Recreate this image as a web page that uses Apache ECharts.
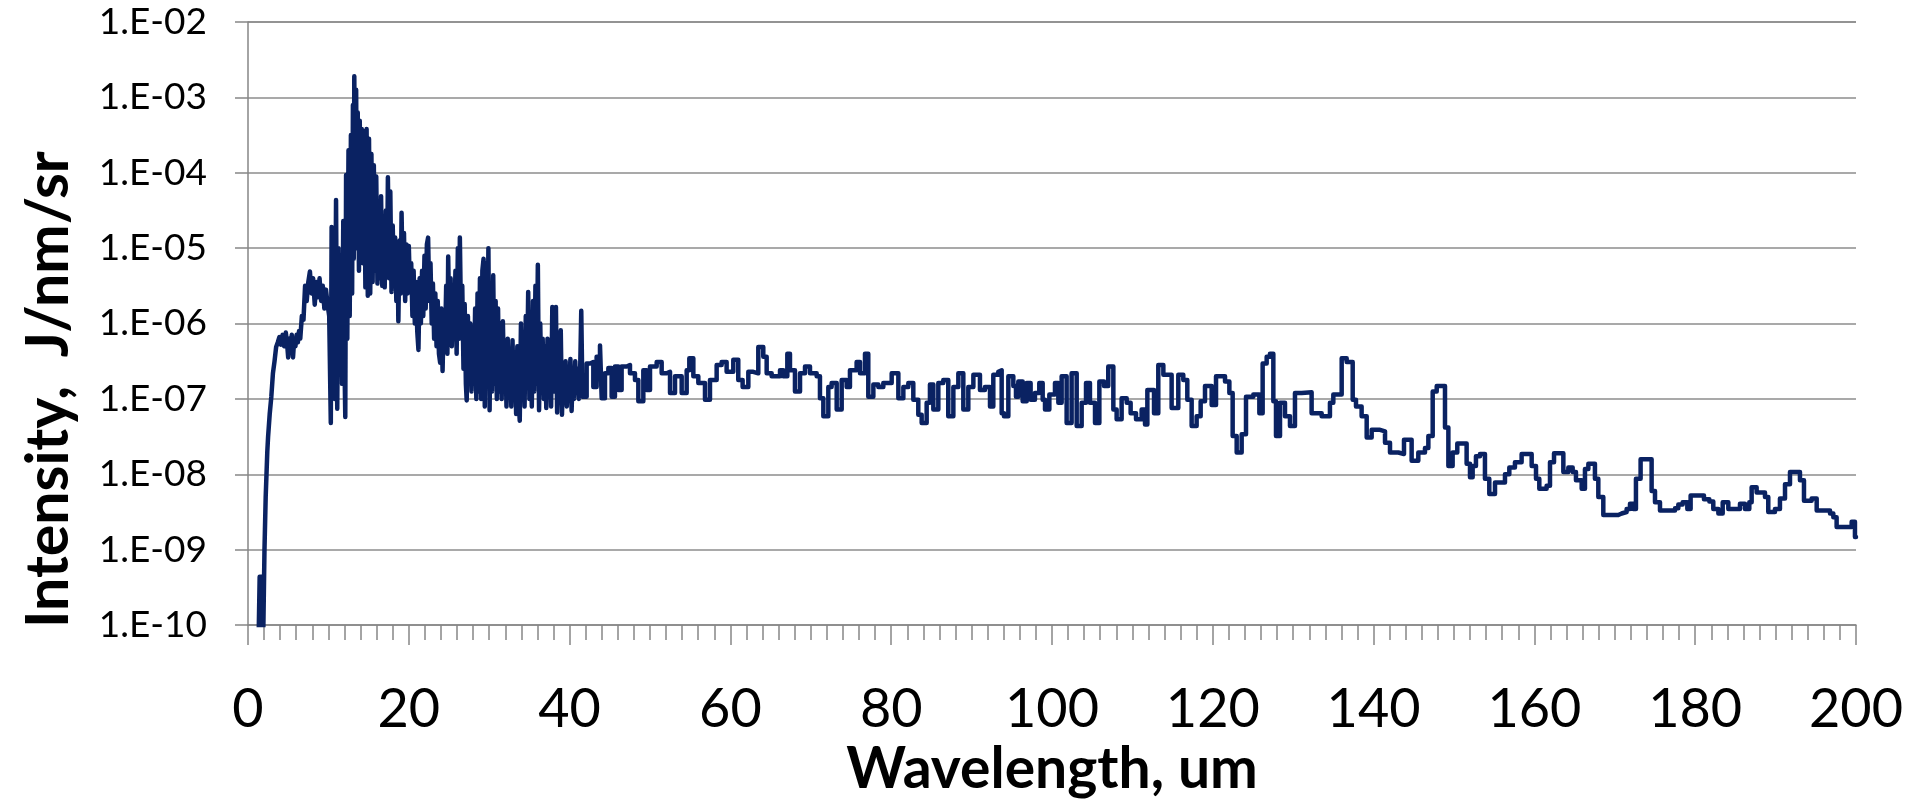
<!DOCTYPE html>
<html>
<head>
<meta charset="utf-8">
<script src="https://cdn.jsdelivr.net/npm/echarts@6/dist/echarts.min.js"></script>
<style>
html,body{margin:0;padding:0;background:#fff;}
#chart{width:1909px;height:803px;}
</style>
</head>
<body>
<div id="chart"></div>
<script>
// x tick labels (um) and y tick labels (decades)
const xTickLabels = ['0','20','40','60','80','100','120','140','160','180','200'];
const yTickLabels = ['1.E-10','1.E-09','1.E-08','1.E-07','1.E-06','1.E-05','1.E-04','1.E-03','1.E-02'];

// Spectrum: [wavelength (um), log10 of intensity (J/nm/sr)]
const riseEdge = [
[1.30,-10.3],[1.45,-9.36],[1.70,-10.3],[1.90,-10.1],[2.05,-9.0],[2.20,-8.3],[2.30,-8.0],[2.40,-7.7],[2.50,-7.5],[2.70,-7.2],[2.90,-6.97],[3.10,-6.66],[3.30,-6.5],
[3.5,-6.31],[3.7,-6.25],[3.9,-6.18],[4.1,-6.28],[4.3,-6.15],[4.5,-6.3],[4.7,-6.12],[4.85,-6.25],[5.0,-6.45],[5.15,-6.2],[5.3,-6.28],[5.45,-6.15],[5.6,-6.45],[5.75,-6.2],[5.9,-6.3],[6.05,-6.15],[6.2,-6.25],[6.35,-6.1],[6.5,-6.2],[6.7,-5.9],[6.9,-5.95],[7.1,-5.5],[7.3,-5.7],[7.5,-5.45],[7.7,-5.31],[7.9,-5.6],[8.1,-5.4],[8.3,-5.75],[8.5,-5.45],[8.7,-5.65],[8.9,-5.4],[9.1,-5.7],[9.3,-5.5],[9.5,-5.8],[9.7,-5.55],[9.9,-5.75],[10.1,-5.9]
];
const denseBand = [
[10.30,-7.32],[10.40,-4.72],[10.55,-6.9],[10.65,-5.4],[10.80,-7.0],[10.95,-4.36],[11.10,-7.13],[11.25,-5.0],[11.40,-6.6],[11.55,-5.1],[11.70,-6.8],[11.85,-4.64],[12.00,-6.5],[12.10,-7.24],[12.20,-4.03],[12.35,-6.2],[12.50,-3.7],[12.65,-5.9],[12.80,-3.5],[12.95,-5.6],[13.05,-3.1],[13.15,-5.14],[13.22,-2.72],[13.35,-4.9],[13.45,-2.9],[13.55,-5.0],[13.65,-3.2],[13.80,-5.3],[13.90,-3.31],[14.05,-5.02],[14.15,-3.42],[14.30,-5.2],[14.45,-3.45],[14.60,-5.52],[14.75,-3.42],[14.90,-5.63],[15.05,-3.55],[15.20,-5.6],[15.35,-3.75],[15.50,-5.45],[15.65,-3.9],[15.80,-5.30],[15.95,-4.05],[16.10,-5.47],[16.25,-4.4],[16.40,-5.4],[16.55,-4.31],[16.70,-5.5],[16.85,-4.6],[17.00,-5.52],[17.15,-4.5],[17.30,-5.3],[17.40,-4.06],[17.55,-5.4],[17.70,-4.25],[17.85,-5.58],[18.00,-4.7],[18.15,-5.5],[18.30,-4.86],[18.45,-5.7],[18.60,-5.0],[18.70,-5.97],[18.85,-4.9],[19.00,-5.6],[19.10,-4.53],[19.25,-5.5],[19.40,-4.8],[19.55,-5.7],[19.70,-4.95],[19.85,-5.6],[20.00,-4.97],[20.15,-5.58],[20.30,-5.2],[20.45,-5.9],[20.60,-5.3],[20.75,-6.0],[20.90,-5.45],[21.05,-6.1],[21.20,-6.35],[21.35,-5.4],[21.50,-6.0],[21.65,-5.3],[21.80,-5.9],[21.95,-5.1],[22.10,-5.8],[22.25,-4.95],[22.40,-4.86],[22.55,-5.7],[22.70,-5.2],[22.85,-6.0],[23.00,-5.47],[23.15,-6.2],[23.30,-5.6],[23.45,-6.3],[23.60,-5.7],[23.75,-6.4],[23.90,-6.52],[24.05,-5.8],[24.20,-6.63],[24.35,-5.9],[24.50,-6.3],[24.65,-5.5],[24.80,-6.4],[24.90,-5.11],[25.05,-6.1],[25.20,-5.4],[25.35,-6.3],[25.50,-5.58],[25.65,-6.2],[25.80,-5.3],[25.95,-6.4],[26.10,-5.0],[26.25,-6.2],[26.35,-4.86],[26.50,-6.0],[26.65,-5.5],[26.80,-6.6],[26.95,-5.74],[27.10,-6.8],[27.20,-7.02],[27.35,-5.9],[27.50,-6.7],[27.65,-6.0],[27.80,-6.9],[27.95,-6.07],[28.10,-6.8],[28.25,-5.8],[28.40,-7.0],[28.55,-5.6],[28.70,-6.9],[28.85,-5.4],[29.00,-7.0],[29.15,-5.3],[29.30,-5.14],[29.45,-7.1],[29.60,-5.2],[29.75,-6.8],[29.90,-5.0],[30.05,-7.15],[30.20,-5.5],[30.35,-6.9],[30.50,-5.36],[30.65,-6.8],[30.80,-5.7],[30.95,-7.0],[31.10,-5.8],[31.25,-6.9],[31.40,-6.0],[31.55,-7.0],[31.70,-5.97],[31.85,-6.8],[32.00,-6.3],[32.15,-7.1],[32.30,-6.2],[32.45,-6.9],[32.60,-6.52],[32.75,-7.1],[32.90,-6.22],[33.05,-7.0],[33.20,-6.4],[33.35,-7.2],[33.50,-6.3],[33.65,-7.0],[33.80,-7.29],[33.95,-6.0],[34.10,-6.9],[34.25,-6.2],[34.40,-7.1],[34.55,-5.9],[34.70,-6.8],[34.85,-5.58],[35.00,-7.0],[35.15,-6.1],[35.30,-7.1],[35.45,-5.7],[35.60,-6.9],[35.75,-5.5],[35.90,-6.8],[36.05,-5.22],[36.20,-7.15],[36.35,-6.0],[36.50,-6.9],[36.65,-6.2],[36.80,-7.0],[36.95,-6.3],[37.10,-7.12],[37.25,-6.2],[37.40,-6.9],[37.55,-6.4],[37.70,-7.1],[37.85,-5.78],[38.00,-6.9],[38.15,-6.3],[38.30,-5.78],[38.45,-7.18],[38.60,-6.4],[38.75,-7.0],[38.90,-6.09],[39.05,-7.21],[39.20,-6.6],[39.35,-7.0],[39.50,-6.5],[39.65,-7.1],[39.80,-6.6],[39.95,-6.9],[40.10,-6.47],[40.25,-7.16],[40.40,-6.6],[40.55,-7.0],[40.70,-6.5],[40.85,-6.9],[41.00,-6.6],[41.15,-7.0],[41.30,-6.7],[41.45,-5.83],[41.60,-6.97]
];
const plateau = [
[42.12,-6.53],[42.54,-6.51],[42.95,-6.84],[43.36,-6.44],[43.78,-6.29],[43.99,-6.99],[44.40,-6.66],[44.82,-6.59],[45.23,-6.97],[45.64,-6.57],[46.06,-6.88],[46.47,-6.57],[47.10,-6.55],[47.51,-6.66],[48.13,-6.75],[48.55,-7.03],[49.17,-6.62],[49.58,-6.88],[50.00,-6.57],[50.83,-6.51],[51.45,-6.66],[52.07,-6.64],[52.49,-6.92],[53.11,-6.70],[53.94,-6.92],[54.56,-6.62],[54.89,-6.46],[55.39,-6.70],[56.01,-6.79],[56.84,-7.01],[57.46,-6.75],[58.29,-6.55],[58.91,-6.51],[59.53,-6.64],[60.36,-6.48],[60.98,-6.75],[61.52,-6.84],[62.23,-6.64],[62.85,-6.66],[63.47,-6.31],[64.09,-6.44],[64.51,-6.66],[65.13,-6.70],[66.17,-6.62],[66.58,-6.70],[67.08,-6.40],[67.41,-6.62],[68.03,-6.90],[68.66,-6.66],[69.28,-6.57],[69.90,-6.66],[70.73,-6.70],[71.14,-6.99],[71.56,-7.23],[72.18,-6.84],[72.59,-6.79],[73.22,-7.14],[73.84,-6.75],[74.46,-6.84],[74.87,-6.62],[75.70,-6.51],[76.12,-6.66],[76.74,-6.40],[77.15,-6.97],[77.78,-6.81],[78.40,-6.84],[79.02,-6.79],[80.06,-6.66],[80.89,-6.99],[81.51,-6.84],[82.13,-6.79],[82.75,-7.01],[83.37,-7.21],[83.79,-7.32],[84.41,-7.05],[84.82,-6.81],[85.24,-7.14],[85.86,-6.79],[86.48,-6.75],[87.10,-7.23],[87.73,-6.84],[88.35,-6.66],[88.97,-7.14],[89.59,-6.84],[90.22,-6.68],[91.04,-6.88],[91.66,-6.84],[92.29,-7.10],[92.70,-6.68],[93.32,-6.64]
];
const coarseMid = [
[93.53,-6.62],[93.74,-7.19],[94.03,-7.23],[94.57,-6.70],[95.19,-6.83],[95.52,-6.97],[95.81,-6.77],[96.35,-7.03],[96.85,-6.79],[97.34,-7.01],[97.88,-6.92],[98.42,-6.79],[98.84,-7.01],[99.13,-7.14],[99.67,-6.94],[100.37,-6.79],[100.79,-7.05],[101.20,-6.70],[101.82,-7.32],[102.44,-6.66],[103.07,-7.36],[103.69,-7.05],[104.23,-6.79],[104.72,-7.05],[105.35,-7.32],[105.89,-6.77],[106.47,-6.83],[107.00,-6.57],[107.63,-7.14],[108.04,-7.27],[108.66,-6.99],[109.29,-7.05],[109.78,-7.19],[110.45,-7.27],[111.15,-7.14],[111.57,-7.34],[111.86,-6.88],[112.69,-7.19],[113.22,-6.55],[113.85,-6.68],[114.88,-7.12],[115.71,-6.68],[116.33,-6.75],[116.83,-7.01],[117.37,-7.36],[117.99,-7.23],[118.49,-7.03],[119.03,-6.83],[119.86,-7.08],[120.40,-6.70],[121.52,-6.77],[122.06,-6.92],[122.47,-7.49],[122.97,-7.71],[123.59,-7.47],[124.13,-6.97],[125.04,-6.94],[125.79,-7.19],[126.20,-6.53],[126.70,-6.44],[127.11,-6.40],[127.53,-7.03],[127.86,-7.49],[128.36,-7.05],[128.98,-7.23],[129.60,-7.36],[130.22,-6.92],[131.05,-6.91],[132.29,-7.19],[133.54,-7.23],[134.57,-7.05],[134.99,-6.94],[136.03,-6.46],[136.65,-6.51],[137.40,-7.01],[137.81,-7.10],[138.51,-7.23],[139.14,-7.51],[139.76,-7.41],[140.80,-7.43],[141.42,-7.58],[142.04,-7.71],[143.08,-7.73],[143.78,-7.54],[144.73,-7.82],[145.56,-7.71],[146.39,-7.65],[146.81,-7.49],[147.35,-6.90],[147.85,-6.83],[148.88,-7.38],[149.30,-7.89]
];
const coarseTail = [
[149.83,-7.71],[150.41,-7.59],[151.57,-7.86],[151.99,-8.04],[152.32,-7.89],[152.73,-7.76],[153.23,-7.73],[153.85,-8.06],[154.39,-8.26],[155.10,-8.11],[156.34,-8.00],[156.88,-7.91],[157.58,-7.84],[158.41,-7.73],[159.66,-7.89],[160.20,-8.06],[160.61,-8.19],[161.52,-8.15],[161.94,-7.84],[162.44,-7.72],[163.60,-7.97],[164.22,-7.91],[164.76,-7.97],[165.17,-8.08],[165.88,-8.19],[166.29,-7.93],[166.71,-7.86],[167.53,-8.06],[167.95,-8.30],[168.57,-8.54],[170.44,-8.52],[170.85,-8.50],[171.47,-8.46],[171.89,-8.39],[172.30,-8.46],[172.63,-8.06],[173.21,-7.80],[174.58,-8.22],[175.00,-8.37],[175.62,-8.48],[177.49,-8.45],[177.90,-8.40],[178.44,-8.37],[179.02,-8.46],[179.43,-8.28],[181.09,-8.33],[181.76,-8.36],[182.25,-8.46],[182.88,-8.52],[183.42,-8.37],[184.12,-8.46],[185.57,-8.39],[186.19,-8.46],[186.73,-8.37],[187.02,-8.17],[187.64,-8.24],[188.68,-8.30],[189.09,-8.50],[189.92,-8.46],[190.54,-8.32],[191.17,-8.13],[191.79,-7.97],[193.03,-8.08],[193.53,-8.35],[194.48,-8.32],[195.11,-8.48],[196.77,-8.52],[197.18,-8.57],[197.59,-8.70],[199.46,-8.63],[199.87,-8.83],[200.0,-8.83]
];

const spectrum = riseEdge.concat(denseBand, plateau, coarseMid, coarseTail)
  .map(p => [p[0], Math.pow(10, p[1])]);

const AXIS = '#868686';
const GRID = '#8c8c8c';
const FONT = 'Lato, "Open Sans", sans-serif';

const chart = echarts.init(document.getElementById('chart'), null, {renderer: 'canvas'});
chart.setOption({
  animation: false,
  backgroundColor: '#ffffff',
  grid: {left: 248, right: 53, top: 22, bottom: 172, containLabel: false},
  xAxis: {
    type: 'value', min: 0, max: 200, interval: 20,
    name: 'Wavelength, um', nameLocation: 'middle', nameGap: 110,
    nameTextStyle: {fontFamily: FONT, fontWeight: 'bold', fontSize: 57, color: '#000'},
    axisLine: {show: true, lineStyle: {color: AXIS, width: 1.5}},
    axisTick: {show: true, inside: false, length: 20, lineStyle: {color: AXIS, width: 1.5}},
    minorTick: {show: true, splitNumber: 10, length: 15, lineStyle: {color: AXIS, width: 1.5}},
    splitLine: {show: false},
    axisLabel: {
      margin: 57, fontFamily: FONT, fontSize: 54, color: '#000',
      formatter: v => xTickLabels[Math.round(v / 20)]
    }
  },
  yAxis: {
    type: 'log', logBase: 10, min: 1e-10, max: 1e-2, splitNumber: 8,
    name: 'Intensity,  J/nm/sr', nameLocation: 'middle', nameGap: 170, nameRotate: 90,
    nameTextStyle: {fontFamily: FONT, fontWeight: 'bold', fontSize: 59, color: '#000', padding: [0, 132, 0, 0]},
    axisLine: {show: true, lineStyle: {color: AXIS, width: 1.5}},
    axisTick: {show: true, inside: false, length: 13, lineStyle: {color: AXIS, width: 1.5}},
    splitLine: {show: true, lineStyle: {color: GRID, width: 1.5}},
    axisLabel: {
      margin: 41, fontFamily: FONT, fontSize: 37, color: '#000',
      formatter: v => yTickLabels[Math.round(Math.log10(v)) + 10]
    }
  },
  series: [{
    type: 'line',
    data: spectrum,
    step: 'end',
    showSymbol: false,
    symbol: 'none',
    clip: true,
    lineStyle: {color: '#0a2262', width: 4.5, join: 'round', cap: 'round'},
    emphasis: {disabled: true}
  }]
});
</script>
</body>
</html>
